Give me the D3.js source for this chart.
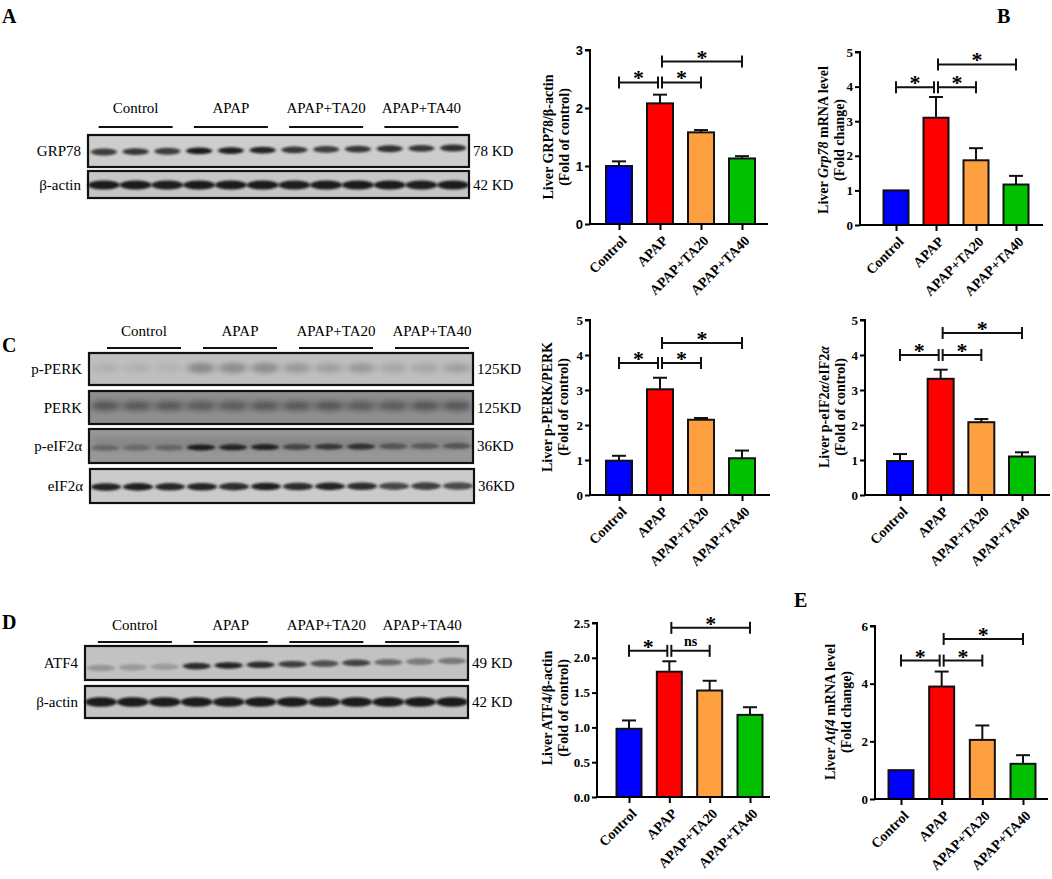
<!DOCTYPE html>
<html>
<head>
<meta charset="utf-8">
<script src="https://cdn.jsdelivr.net/npm/d3@7"></script>
<style>
  body { margin: 0; background: #fff; }
  text { font-family: "Liberation Serif", "Times New Roman", serif; }
</style>
</head>
<body>
<svg width="1052" height="879"></svg>
<script>
const svg = d3.select("svg");

const groups = ["Control", "APAP", "APAP+TA20", "APAP+TA40"];
const barColors = ["#0000ff", "#ff0000", "#ffa040", "#00c000"];

// bar chart values (mean, SEM)
const grp78Mean = [1.0, 2.08, 1.58, 1.13];
const grp78Err = [0.08, 0.15, 0.04, 0.04];
const grp78mRNAMean = [1.0, 3.1, 1.87, 1.17];
const grp78mRNAErr = [0, 0.6, 0.35, 0.25];
const perkMean = [0.98, 3.02, 2.15, 1.05];
const perkErr = [0.14, 0.33, 0.05, 0.22];
const eif2Mean = [0.97, 3.32, 2.08, 1.1];
const eif2Err = [0.2, 0.26, 0.09, 0.12];
const atf4Mean = [0.98, 1.8, 1.53, 1.18];
const atf4Err = [0.12, 0.15, 0.14, 0.11];
const atf4mRNAMean = [1.0, 3.9, 2.05, 1.22];
const atf4mRNAErr = [0, 0.52, 0.5, 0.3];

// significance: [from, to, level, label]
const sigGrp78 = [[0, 1, 2.44, "*"], [1, 2, 2.44, "*"], [1, 3, 2.8, "*"]];
const sigGrp78mRNA = [[0, 1, 3.98, "*"], [1, 2, 3.98, "*"], [1, 3, 4.64, "*"]];
const sigPerk = [[0, 1, 3.77, "*"], [1, 2, 3.77, "*"], [1, 3, 4.34, "*"]];
const sigEif2 = [[0, 1, 4.0, "*"], [1, 2, 4.0, "*"], [1, 3, 4.63, "*"]];
const sigAtf4 = [[0, 1, 2.1, "*"], [1, 2, 2.1, "ns"], [1, 3, 2.43, "*"]];
const sigAtf4mRNA = [[0, 1, 4.8, "*"], [1, 2, 4.8, "*"], [1, 3, 5.55, "*"]];

// tick values
const ticks3 = [0, 1, 2, 3];
const ticks5 = [0, 1, 2, 3, 4, 5];
const ticks25 = [0, 0.5, 1.0, 1.5, 2.0, 2.5];
const ticks6 = [0, 2, 4, 6];

// western blot lane intensities (12 lanes, 3 per group)
const grp78Bands = [0.78, 0.82, 0.78, 0.97, 0.94, 0.92, 0.82, 0.78, 0.82, 0.84, 0.82, 0.87];
const actinABands = [0.97, 0.97, 0.95, 0.97, 0.97, 0.97, 0.95, 0.97, 0.97, 0.97, 0.95, 0.97];
const pPerkBands = [0.08, 0.08, 0.06, 0.32, 0.3, 0.3, 0.22, 0.18, 0.22, 0.14, 0.14, 0.18];
const perkBands = [0.4, 0.38, 0.38, 0.36, 0.36, 0.38, 0.38, 0.4, 0.35, 0.36, 0.4, 0.4];
const pEif2Bands = [0.3, 0.28, 0.32, 0.95, 0.88, 0.9, 0.6, 0.72, 0.78, 0.45, 0.4, 0.45];
const eif2Bands = [0.92, 0.94, 0.9, 0.92, 0.87, 0.94, 0.87, 0.92, 0.87, 0.72, 0.77, 0.7];
const atf4Bands = [0.25, 0.22, 0.22, 0.87, 0.92, 0.87, 0.77, 0.67, 0.74, 0.5, 0.4, 0.42];
const actinDBands = [0.97, 0.97, 0.97, 0.97, 0.95, 0.97, 0.97, 0.95, 0.97, 0.97, 0.97, 0.97];

const defs = svg.append("defs");
defs.append("filter").attr("id", "blur")
  .attr("x", "-50%").attr("y", "-100%").attr("width", "200%").attr("height", "300%")
  .append("feGaussianBlur").attr("stdDeviation", "1.4 1.0");
defs.append("filter").attr("id", "blurWide")
  .attr("x", "-50%").attr("y", "-100%").attr("width", "200%").attr("height", "300%")
  .append("feGaussianBlur").attr("stdDeviation", "3 2.5");

// ---------- panel letters ----------
const letters = [["A", 2, 23], ["B", 997, 23], ["C", 2, 352], ["D", 2, 629], ["E", 794, 607]];
svg.selectAll(".letter").data(letters).enter().append("text")
  .attr("x", d => d[1]).attr("y", d => d[2])
  .attr("font-size", 20).attr("font-weight", "bold")
  .text(d => d[0]);

// ---------- blots ----------
function drawHeader(cfg) {
  const lane = cfg.w / 12;
  groups.forEach((g, i) => {
    const cx = cfg.x + lane * (3 * i + 1.5) + cfg.headShift;
    svg.append("text").attr("x", cx).attr("y", cfg.labelY)
      .attr("text-anchor", "middle").attr("font-size", 15).text(g);
    svg.append("line").attr("x1", cx - 37).attr("x2", cx + 37)
      .attr("y1", cfg.lineY).attr("y2", cfg.lineY)
      .attr("stroke", "#111").attr("stroke-width", 2);
  });
}

function drawBlot(row) {
  const lane = row.w / 12;
  const g = svg.append("g");
  g.append("rect").attr("x", row.x).attr("y", row.y).attr("width", row.w).attr("height", row.h)
    .attr("fill", row.bg);
  const xs = d3.scaleLinear().domain([0, 11]).range([row.x + lane / 2, row.x + row.w - lane / 2]);
  if (row.smear) {
    g.append("rect").attr("x", row.x + 4).attr("y", row.y + row.h * 0.25)
      .attr("width", row.w - 8).attr("height", row.h * 0.35)
      .attr("fill", "#000").attr("opacity", row.smear).attr("filter", "url(#blurWide)");
  }
  g.selectAll("ellipse").data(row.bands).enter().append("ellipse")
    .attr("cx", (d, i) => xs(i))
    .attr("cy", (d, i) => row.y + row.bandY + row.tilt * i / 11)
    .attr("rx", row.rx).attr("ry", row.ry)
    .attr("fill", "#141414")
    .attr("opacity", d => d)
    .attr("filter", row.wide ? "url(#blurWide)" : "url(#blur)");
  g.append("rect").attr("x", row.x).attr("y", row.y).attr("width", row.w).attr("height", row.h)
    .attr("fill", "none").attr("stroke", "#111").attr("stroke-width", 2.2);
  svg.append("text").attr("x", row.x - 7).attr("y", row.y + row.h / 2 + 5)
    .attr("text-anchor", "end").attr("font-size", 15).text(row.label);
  svg.append("text").attr("x", row.x + row.w + 4).attr("y", row.y + row.h / 2 + 5)
    .attr("font-size", 15).text(row.kd);
}

drawHeader({ x: 88, w: 381, labelY: 113, lineY: 127, headShift: 0 });
drawBlot({ x: 88, y: 135, w: 381, h: 32, bg: "#cdcdcd", bands: grp78Bands, bandY: 17, tilt: -4, rx: 13, ry: 3.4, label: "GRP78", kd: "78 KD" });
drawBlot({ x: 88, y: 171, w: 381, h: 27, bg: "#c6c6c6", bands: actinABands, bandY: 14, tilt: 0, rx: 16, ry: 4.6, label: "β-actin", kd: "42 KD" });

drawHeader({ x: 89, w: 384, labelY: 336, lineY: 348, headShift: 7 });
drawBlot({ x: 89, y: 353, w: 384, h: 32, bg: "#bfbfbf", bands: pPerkBands, bandY: 15, tilt: 0, rx: 14, ry: 5, wide: true, label: "p-PERK", kd: "125KD" });
drawBlot({ x: 89, y: 391, w: 384, h: 33, bg: "#8e8e8e", bands: perkBands, bandY: 15, tilt: 0, rx: 14, ry: 4.5, wide: true, smear: 0.08, label: "PERK", kd: "125KD" });
drawBlot({ x: 89, y: 429, w: 384, h: 34, bg: "#979797", bands: pEif2Bands, bandY: 19, tilt: -2, rx: 14, ry: 3, smear: 0.1, label: "p-eIF2α", kd: "36KD" });
drawBlot({ x: 90, y: 469, w: 384, h: 34, bg: "#cbcbcb", bands: eif2Bands, bandY: 18, tilt: -1, rx: 15, ry: 3.8, label: "eIF2α", kd: "36KD" });

drawHeader({ x: 85, w: 383, labelY: 630, lineY: 642, headShift: 2 });
drawBlot({ x: 85, y: 646, w: 383, h: 34, bg: "#c2c2c2", bands: atf4Bands, bandY: 22, tilt: -7, rx: 14, ry: 3.3, label: "ATF4", kd: "49 KD" });
drawBlot({ x: 85, y: 686, w: 383, h: 32, bg: "#c4c4c4", bands: actinDBands, bandY: 16, tilt: 0, rx: 16, ry: 4.8, label: "β-actin", kd: "42 KD" });

// ---------- bar charts ----------
function barChart(c) {
  const g = svg.append("g");
  const y = d3.scaleLinear().domain([0, c.max]).range([c.y0, c.yTop]);
  const x = d3.scalePoint().domain(groups).range([c.c0, c.c1]);
  const bw = c.bw;
  const data = groups.map((name, i) => ({ name, mean: c.mean[i], err: c.err[i], color: barColors[i] }));

  // error bars (upper only)
  g.selectAll(".err").data(data.filter(d => d.err > 0)).enter().append("g").each(function (d) {
    const e = d3.select(this);
    e.append("line").attr("x1", x(d.name)).attr("x2", x(d.name))
      .attr("y1", y(d.mean)).attr("y2", y(d.mean + d.err))
      .attr("stroke", "#111").attr("stroke-width", 2);
    e.append("line").attr("x1", x(d.name) - 7).attr("x2", x(d.name) + 7)
      .attr("y1", y(d.mean + d.err)).attr("y2", y(d.mean + d.err))
      .attr("stroke", "#111").attr("stroke-width", 2);
  });

  g.selectAll(".bar").data(data).enter().append("rect")
    .attr("x", d => x(d.name) - bw / 2).attr("width", bw)
    .attr("y", d => y(d.mean)).attr("height", d => c.y0 - y(d.mean))
    .attr("fill", d => d.color).attr("stroke", "#111").attr("stroke-width", 2);

  // y axis
  const yAxis = g.append("g").attr("transform", `translate(${c.x0},0)`)
    .call(d3.axisLeft(y).tickValues(c.ticks).tickSize(5).tickSizeOuter(0)
      .tickFormat(c.fmt ? d3.format(c.fmt) : d3.format("d")));
  yAxis.select(".domain").attr("stroke-width", 2).attr("d", `M0,${c.y0}V${c.yTop}H-5`);
  yAxis.selectAll(".tick line").attr("stroke-width", 2);
  yAxis.selectAll(".tick text").attr("font-size", 13).attr("font-weight", "bold")
    .style("font-family", c.sans ? "'Liberation Sans', Arial, sans-serif" : "'Liberation Serif', serif")
    .attr("x", -7);

  // x axis
  const xAxis = g.append("g").attr("transform", `translate(0,${c.y0})`)
    .call(d3.axisBottom(x).tickSize(6).tickSizeOuter(0).tickFormat(""));
  xAxis.select(".domain").attr("stroke-width", 2).attr("d", `M${c.x0},0H${c.x1}`);
  xAxis.selectAll(".tick line").attr("stroke-width", 2);

  g.selectAll(".xl").data(groups).enter().append("text")
    .attr("transform", d => `translate(${x(d) + 5},${c.y0 + 14}) rotate(-45)`)
    .attr("text-anchor", "end").attr("dy", "0.35em")
    .attr("font-size", 14).attr("font-weight", "bold").text(d => d);

  // y label
  const lab = g.append("text").attr("transform", `translate(${c.lx},${c.ly}) rotate(-90)`)
    .attr("text-anchor", "middle").attr("font-size", 14).attr("font-weight", "bold");
  c.label1.forEach(part => {
    lab.append("tspan").attr("font-style", part[1] ? "italic" : null).text(part[0]);
  });
  g.append("text").attr("transform", `translate(${c.lx + 16},${c.ly}) rotate(-90)`)
    .attr("text-anchor", "middle").attr("font-size", 14).attr("font-weight", "bold")
    .text(c.label2);

  // significance brackets
  c.sig.forEach(([a, b, lvl, txt]) => {
    const xa = x(groups[a]) + (a === 1 ? 2 : 0);
    const xb = x(groups[b]) - (b === 1 ? 2 : 0);
    const yy = y(lvl);
    const s = g.append("g").attr("stroke", "#111").attr("stroke-width", 2);
    s.append("line").attr("x1", xa).attr("x2", xb).attr("y1", yy).attr("y2", yy);
    s.append("line").attr("x1", xa).attr("x2", xa).attr("y1", yy - 6).attr("y2", yy + 6);
    s.append("line").attr("x1", xb).attr("x2", xb).attr("y1", yy - 6).attr("y2", yy + 6);
    g.append("text").attr("x", (xa + xb) / 2)
      .attr("y", txt === "*" ? yy + 3 : yy - 5)
      .attr("text-anchor", "middle").attr("font-weight", "bold")
      .attr("font-size", txt === "*" ? 22 : 14).text(txt);
  });
}

barChart({ mean: grp78Mean, err: grp78Err, sig: sigGrp78, max: 3, ticks: ticks3, sans: true,
  x0: 590, x1: 768, c0: 619, c1: 742, bw: 26, y0: 224, yTop: 50,
  lx: 553, ly: 137, label1: [["Liver GRP78/β-actin"]], label2: "(Fold of control)" });
barChart({ mean: grp78mRNAMean, err: grp78mRNAErr, sig: sigGrp78mRNA, max: 5, ticks: ticks5,
  x0: 860, x1: 1043, c0: 896, c1: 1016, bw: 25, y0: 225, yTop: 52,
  lx: 828, ly: 140, label1: [["Liver "], ["Grp78", true], [" mRNA level"]], label2: "(Fold change)" });
barChart({ mean: perkMean, err: perkErr, sig: sigPerk, max: 5, ticks: ticks5,
  x0: 590, x1: 770, c0: 619, c1: 742, bw: 26, y0: 495, yTop: 320,
  lx: 552, ly: 407, label1: [["Liver p-PERK/PERK"]], label2: "(Fold of control)" });
barChart({ mean: eif2Mean, err: eif2Err, sig: sigEif2, max: 5, ticks: ticks5,
  x0: 865, x1: 1050, c0: 900, c1: 1022, bw: 26, y0: 495, yTop: 320,
  lx: 829, ly: 407, label1: [["Liver p-eIF2"], ["α", true], ["/eIF2"], ["α", true]], label2: "(Fold of control)" });
barChart({ mean: atf4Mean, err: atf4Err, sig: sigAtf4, max: 2.5, ticks: ticks25, fmt: ".1f",
  x0: 597, x1: 770, c0: 629, c1: 750, bw: 25, y0: 797, yTop: 623,
  lx: 552, ly: 708, label1: [["Liver ATF4/β-actin"]], label2: "(Fold of control)" });
barChart({ mean: atf4mRNAMean, err: atf4mRNAErr, sig: sigAtf4mRNA, max: 6, ticks: ticks6,
  x0: 875, x1: 1048, c0: 901, c1: 1023, bw: 25, y0: 799, yTop: 626,
  lx: 835, ly: 712, label1: [["Liver "], ["Atf4", true], [" mRNA level"]], label2: "(Fold change)" });
</script>
</body>
</html>
